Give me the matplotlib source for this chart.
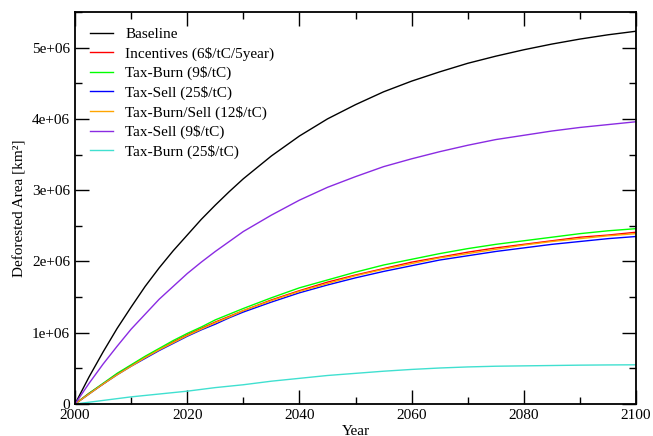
import numpy as np
import matplotlib
matplotlib.use("Agg")
import matplotlib.pyplot as plt
from matplotlib.ticker import MultipleLocator

plt.rcParams["font.family"] = ["Liberation Serif", "DejaVu Serif"]

years = [2000, 2002.5, 2005, 2007.5, 2010, 2012.5, 2015, 2017.5, 2020, 2022.5,
         2025, 2027.5, 2030, 2035, 2040, 2045, 2050, 2055, 2060, 2065, 2070,
         2075, 2080, 2085, 2090, 2095, 2100]

# deforested area, millions of km2
baseline = [0, 0.38, 0.73, 1.06, 1.36, 1.65, 1.91, 2.15, 2.37, 2.59,
            2.79, 2.98, 3.16, 3.48, 3.76, 4.00, 4.20, 4.38, 4.53, 4.66, 4.78,
            4.88, 4.97, 5.05, 5.12, 5.18, 5.23]
incentives = [0, 0.15, 0.28, 0.42, 0.54, 0.66, 0.76, 0.87, 0.97, 1.06,
              1.15, 1.23, 1.31, 1.46, 1.59, 1.71, 1.81, 1.90, 1.99, 2.06, 2.13,
              2.19, 2.24, 2.29, 2.34, 2.37, 2.41]
tax_burn_9 = [0, 0.15, 0.29, 0.43, 0.55, 0.67, 0.78, 0.89, 0.99, 1.08,
              1.18, 1.26, 1.34, 1.49, 1.63, 1.74, 1.85, 1.95, 2.03, 2.11, 2.18,
              2.24, 2.29, 2.34, 2.39, 2.43, 2.46]
tax_sell_25 = [0, 0.14, 0.28, 0.41, 0.53, 0.64, 0.75, 0.85, 0.95, 1.04,
               1.12, 1.21, 1.29, 1.43, 1.56, 1.67, 1.77, 1.86, 1.94, 2.02, 2.08,
               2.14, 2.19, 2.24, 2.28, 2.32, 2.35]
tax_burnsell_12 = [0, 0.14, 0.28, 0.41, 0.53, 0.65, 0.76, 0.86, 0.96, 1.05,
                   1.14, 1.22, 1.31, 1.45, 1.58, 1.69, 1.80, 1.89, 1.97, 2.05, 2.11,
                   2.17, 2.23, 2.28, 2.32, 2.36, 2.39]
tax_sell_9 = [0, 0.29, 0.56, 0.81, 1.05, 1.26, 1.47, 1.65, 1.83, 1.99,
              2.14, 2.28, 2.42, 2.65, 2.86, 3.04, 3.19, 3.33, 3.44, 3.54, 3.63,
              3.71, 3.77, 3.83, 3.88, 3.92, 3.96]
tax_burn_25 = [0, 0.025, 0.05, 0.075, 0.10, 0.12, 0.14, 0.16, 0.18, 0.205,
               0.23, 0.25, 0.27, 0.32, 0.36, 0.40, 0.43, 0.46, 0.485, 0.505, 0.52,
               0.53, 0.535, 0.54, 0.545, 0.548, 0.55]

labels = ["Baseline", "Incentives (6$/tC/5year)", "Tax-Burn (9$/tC)",
          "Tax-Sell (25$/tC)", "Tax-Burn/Sell (12$/tC)", "Tax-Sell (9$/tC)",
          "Tax-Burn (25$/tC)"]
series = [baseline, incentives, tax_burn_9, tax_sell_25, tax_burnsell_12,
          tax_sell_9, tax_burn_25]
colors = ["black", "red", "#00ff00", "blue", "orange", "#8a2be2", "#40e0d0"]

fig = plt.figure(figsize=(6.53, 4.36), dpi=100)
ax = fig.add_axes([0.1149, 0.0734, 0.974 - 0.1149, 0.9725 - 0.0734])

for vals, lab, c in zip(series, labels, colors):
    ax.plot(years, np.array(vals) * 1e6, color=c, lw=1.0, label=lab)

ax.set_xlim(2000, 2100)
ax.set_ylim(0, 5.5e6)
ax.xaxis.set_major_locator(MultipleLocator(20))
ax.xaxis.set_minor_locator(MultipleLocator(10))
ax.yaxis.set_minor_locator(MultipleLocator(5e5))
ax.set_yticks([0, 1e6, 2e6, 3e6, 4e6, 5e6])
ax.set_yticklabels(["0", "1e+06", "2e+06", "3e+06", "4e+06", "5e+06"])
ax.tick_params(which="both", direction="in", top=True, right=True,
               labelsize=11, width=1)
ax.tick_params(which="major", length=10)
ax.tick_params(which="minor", length=5)
for s in ax.spines.values():
    s.set_linewidth(1.3)

ax.set_xlabel("Year", fontsize=11, labelpad=2)
ax.set_ylabel("Deforested Area [km²]", fontsize=11, labelpad=4)

ax.legend(loc="upper left", frameon=False, fontsize=11, handlelength=1.5,
          handletextpad=0.8, labelspacing=0.36, borderaxespad=0.6)

fig.savefig("out.png", dpi=100)
